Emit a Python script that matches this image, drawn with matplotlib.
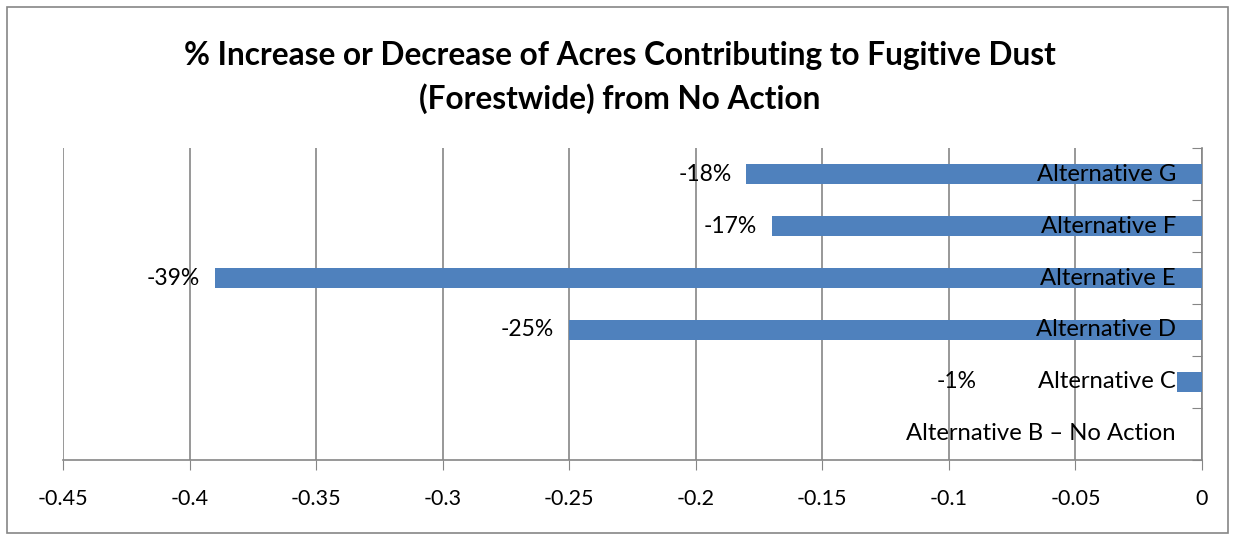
import matplotlib.pyplot as plt
from matplotlib.patches import Rectangle

categories = ["Alternative B \u2013 No Action", "Alternative C", "Alternative D",
              "Alternative E", "Alternative F", "Alternative G"]
values = [0.0, -0.01, -0.25, -0.39, -0.17, -0.18]
pct_labels = ["", "-1%", "-25%", "-39%", "-17%", "-18%"]
xticks = [-0.45, -0.4, -0.35, -0.3, -0.25, -0.2, -0.15, -0.1, -0.05, 0]
xticklabels = ["-0.45", "-0.4", "-0.35", "-0.3", "-0.25", "-0.2", "-0.15", "-0.1", "-0.05", "0"]

plt.rcParams['font.family'] = ['Lato', 'DejaVu Sans']

fig = plt.figure(figsize=(12.35, 5.4), dpi=100)
ax = fig.add_axes([63 / 1235, 80 / 540, (1202 - 63) / 1235, 312 / 540])

grid_c = "#868686"
y = list(range(len(categories)))
ax.barh(y, values, height=0.39, color="#4F81BD", zorder=3)

ax.set_xlim(-0.45, 0)
ax.set_ylim(-0.5, len(categories) - 0.5)
ax.set_xticks(xticks)
ax.set_xticklabels(xticklabels, fontsize=15.5)
ax.tick_params(axis="x", direction="out", length=7, color=grid_c, pad=14)
ax.grid(axis="x", color=grid_c, linewidth=1.2, zorder=0)

# vertical axis at x=0 with inward ticks between categories
ax.yaxis.tick_right()
ax.set_yticks([i - 0.5 for i in range(len(categories) + 1)])
ax.set_yticklabels([])
ax.tick_params(axis="y", direction="in", length=7, color=grid_c)

for s in ["top", "left"]:
    ax.spines[s].set_visible(False)
for s in ["bottom", "right"]:
    ax.spines[s].set_color(grid_c)
    ax.spines[s].set_linewidth(1.2)

# data labels (C label sits further left in the original)
offsets = [-15, -200, -15, -15, -15, -15]
for yi, v, lab, off in zip(y, values, pct_labels, offsets):
    if lab:
        ax.annotate(lab, (v, yi), xytext=(off * 0.72, 0), textcoords="offset points",
                    ha="right", va="center", fontsize=16.5, zorder=4)

# category labels inside, near the axis
for yi, cat in zip(y, categories):
    ax.annotate(cat, (0, yi), xytext=(-26 * 0.72, 0), textcoords="offset points",
                ha="right", va="center", fontsize=17.2, zorder=4)

fig.text(0.502, 0.897, "% Increase or Decrease of Acres Contributing to Fugitive Dust",
         ha="center", va="center", fontsize=22.8, fontweight="bold")
fig.text(0.502, 0.818, "(Forestwide) from No Action",
         ha="center", va="center", fontsize=22.8, fontweight="bold")

fig.patches.append(Rectangle((7 / 1235, 7 / 540), 1221 / 1235, 526 / 540,
                             transform=fig.transFigure, fill=False,
                             edgecolor=grid_c, linewidth=1.2))

fig.savefig("out.png", dpi=100)
